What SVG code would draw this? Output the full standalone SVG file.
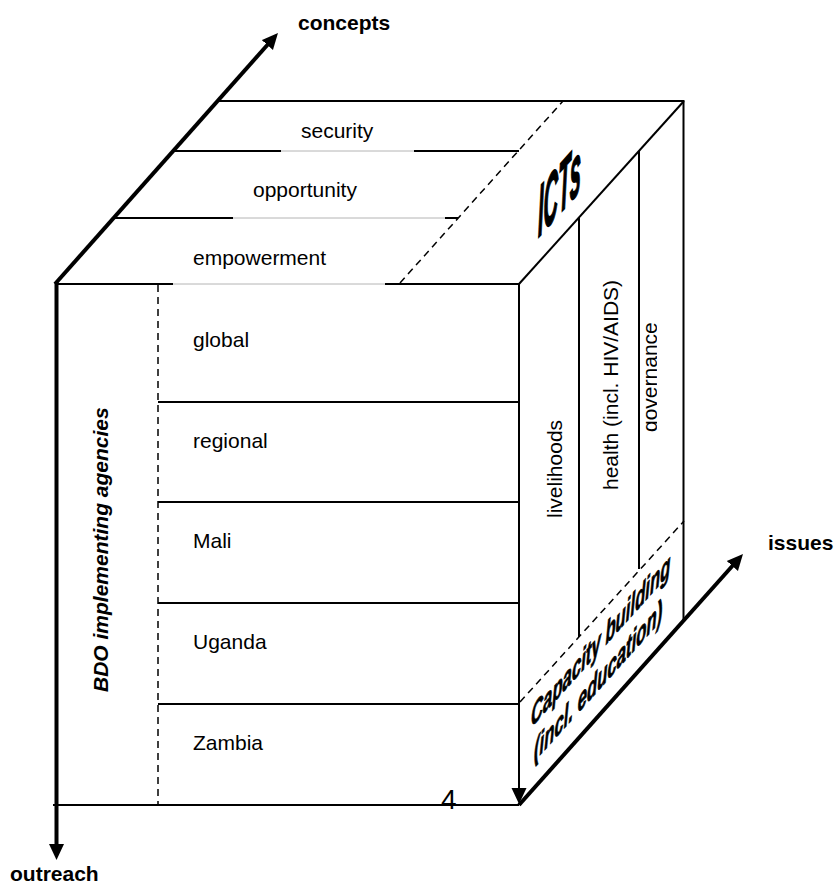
<svg xmlns="http://www.w3.org/2000/svg" width="835" height="886" viewBox="0 0 835 886">
<style>
text{font-family:"Liberation Sans",Arial,sans-serif;fill:#000}
.lbl{font-size:21px}
.axis{font-size:21px;font-weight:bold}
.bi{font-weight:bold;font-style:italic}
.edge{stroke:#000;stroke-width:2;fill:none}
.thin{stroke:#b4b4b4;stroke-width:1;fill:none}
.dash{stroke:#000;stroke-width:1.5;stroke-dasharray:7 5;fill:none}
.ax{stroke:#000;stroke-width:4;fill:none}
</style>
<defs>
<marker id="ah" markerUnits="userSpaceOnUse" markerWidth="16" markerHeight="16" refX="4" refY="8" orient="auto" viewBox="0 0 16 16">
<path d="M0,0.5 L16,8 L0,15.5 z" fill="#000"/>
</marker>
<clipPath id="govclip"><rect x="640" y="300" width="17" height="150"/></clipPath>
</defs>
<rect x="0" y="0" width="835" height="886" fill="#fff"/>

<g id="top-face">
<line class="edge" x1="218" y1="101" x2="684" y2="101"/>
<line class="edge" x1="519" y1="284" x2="684" y2="101"/>
<line class="dash" x1="400" y1="283" x2="563" y2="101"/>
</g>

<g id="concept-security">
<line class="edge" x1="173" y1="151" x2="281" y2="151"/>
<line class="thin" x1="281" y1="151" x2="414" y2="151"/>
<line class="edge" x1="414" y1="151" x2="519" y2="151"/>
<text class="lbl" x="301" y="138">security</text>
</g>
<g id="concept-opportunity">
<line class="edge" x1="114" y1="218" x2="233" y2="218"/>
<line class="thin" x1="233" y1="218" x2="445" y2="218"/>
<line class="edge" x1="445" y1="218" x2="458" y2="218"/>
<text class="lbl" x="253" y="197">opportunity</text>
</g>
<g id="concept-empowerment">
<line class="edge" x1="55" y1="284" x2="173" y2="284"/>
<line class="thin" x1="173" y1="284" x2="385" y2="284"/>
<line class="edge" x1="385" y1="284" x2="519" y2="284"/>
<text class="lbl" x="193" y="265">empowerment</text>
</g>
<g id="icts">
<text class="bi" font-size="72" stroke="#000" stroke-width="2" transform="translate(538,238) skewY(-48) scale(0.28,1)">ICTs</text>
</g>

<g id="front-face">
<line class="dash" x1="158" y1="285" x2="158" y2="805"/>
<line class="edge" x1="53" y1="805" x2="519" y2="805"/>
<text class="bi" font-size="21" transform="translate(108,692) rotate(-90)">BDO implementing agencies</text>
</g>
<g id="row-global">
<text class="lbl" x="193" y="347">global</text>
<line class="edge" x1="158" y1="402" x2="519" y2="402"/>
</g>
<g id="row-regional">
<text class="lbl" x="193" y="448">regional</text>
<line class="edge" x1="158" y1="502" x2="519" y2="502"/>
</g>
<g id="row-mali">
<text class="lbl" x="193" y="548">Mali</text>
<line class="edge" x1="158" y1="603" x2="519" y2="603"/>
</g>
<g id="row-uganda">
<text class="lbl" x="193" y="649">Uganda</text>
<line class="edge" x1="158" y1="704" x2="519" y2="704"/>
</g>
<g id="row-zambia">
<text class="lbl" x="193" y="750">Zambia</text>
</g>

<g id="right-face">
<line class="edge" x1="683.5" y1="100" x2="683.5" y2="620"/>
<line class="dash" x1="520" y1="702" x2="684" y2="521"/>
</g>
<g id="issue-livelihoods">
<text class="lbl" transform="translate(561.5,518) rotate(-90)">livelihoods</text>
<line class="edge" x1="579" y1="218" x2="579" y2="637"/>
</g>
<g id="issue-health">
<text class="lbl" transform="translate(618,490) rotate(-90)">health (incl. HIV/AIDS)</text>
<line class="edge" x1="639" y1="151" x2="639" y2="569"/>
</g>
<g id="issue-governance">
<g clip-path="url(#govclip)">
<text class="lbl" transform="translate(656.5,432) rotate(-90)">governance</text>
</g>
</g>
<g id="capacity">
<text class="bi" font-size="31" stroke="#000" stroke-width="0.8" transform="translate(531,728) skewY(-48) scale(0.54,1)">Capacity building</text>
<text class="bi" font-size="31" stroke="#000" stroke-width="0.8" transform="translate(534,762) skewY(-48) scale(0.54,1)">(incl. education)</text>
</g>

<g id="connectors">
<line class="ax" x1="55" y1="284" x2="270" y2="42" marker-end="url(#ah)"/>
<line class="ax" x1="56.5" y1="282" x2="56.5" y2="848" marker-end="url(#ah)"/>
<line class="ax" x1="519" y1="805" x2="735" y2="563" marker-end="url(#ah)"/>
<line class="edge" x1="519" y1="284" x2="519" y2="792" marker-end="url(#ah)"/>
</g>

<g id="axis-labels">
<text class="axis" x="298" y="30">concepts</text>
<text class="axis" x="768" y="550">issues</text>
<text class="axis" x="10" y="881">outreach</text>
</g>
<text x="441" y="809" font-size="28">4</text>
</svg>
